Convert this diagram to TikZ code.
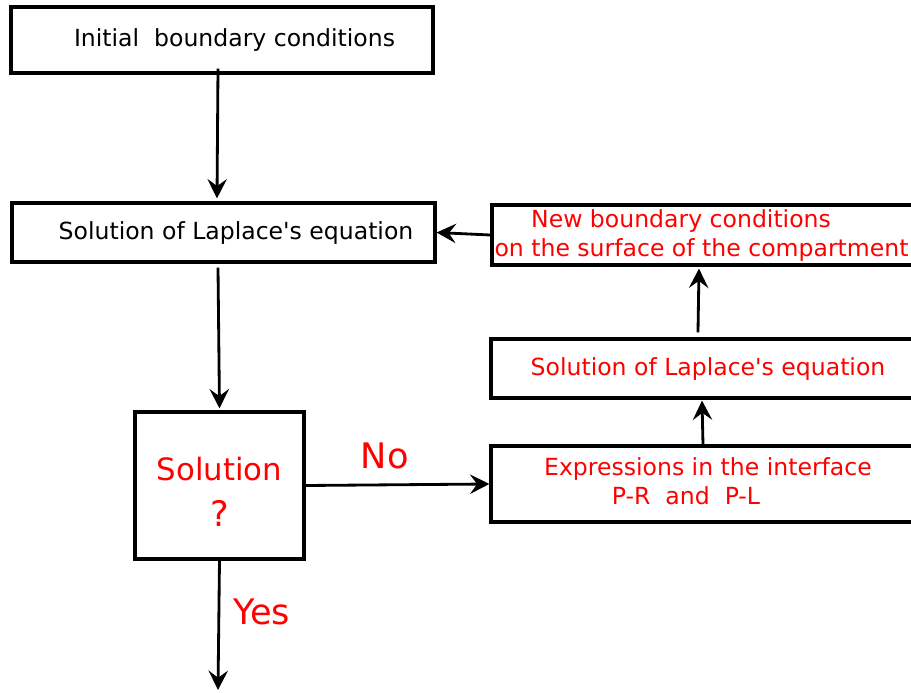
\documentclass[tikz,border=0pt]{standalone}
\usepackage{fontspec}
\setmainfont{DejaVu Sans}
\usepackage{xcolor}
\usepackage{tikz}
\usetikzlibrary{arrows.meta}

\begin{document}
\begin{tikzpicture}[scale=0.2]
\tikzstyle{every node}+=[inner sep=0pt]
\tikzstyle{box}=[draw=black, line width=1.8pt, rectangle, align=center, font=\fontsize{13.4}{16.5}\selectfont]
\tikzstyle{redbox}=[box, text=red]
\tikzstyle{bigtxt}=[text=red, font=\fontsize{20}{24}\selectfont]
\tikzstyle{arr}=[black, line width=1.6pt, -{Stealth[length=11pt,width=11pt,inset=4pt]}]
\useasboundingbox (0,0) rectangle (91.1,-69.2);
\node [box, minimum width=8.44cm, minimum height=1.32cm] (init) at (22.2,-4.0) {\hspace{0.5cm}Initial\ \ boundary conditions};
\node [box, minimum width=8.46cm, minimum height=1.18cm] (lapa) at (22.35,-23.25) {\hspace{0.5cm}Solution of Laplace\textquotesingle s equation};
\node [redbox, minimum width=3.38cm, minimum height=2.94cm, font=\fontsize{17.5}{24}\selectfont] (sol) at (21.95,-48.55) {\rule{0pt}{0.72cm}Solution\\[2pt] {\fontsize{20}{24}\selectfont ?}};
\node [redbox, minimum width=8.66cm, minimum height=1.2cm] (newbc) at (70.85,-23.5) {New boundary conditions\hspace*{1.1cm}\mbox{}\\ on the surface of the compartment\hspace*{0.28cm}\mbox{}};
\node [redbox, minimum width=8.68cm, minimum height=1.18cm] (lapb) at (70.8,-36.85) {Solution of Laplace\textquotesingle s equation};
\node [redbox, minimum width=8.68cm, minimum height=1.52cm] (expr) at (70.8,-48.4) {Expressions in the interface\\ P-R\ \ and\ \ P-L\hspace*{0.88cm}\mbox{}\rule[-0.1cm]{0pt}{0.1cm}};
\coordinate (out) at (21.8,-69.0);
% arrows
\draw [arr] ([xshift=-0.4cm,yshift=0.6cm]init.south) -- ([xshift=-0.65cm,yshift=0.3cm]lapa.north);
\draw [arr] ([xshift=-0.55cm,yshift=-0.4cm]lapa.south) -- ([yshift=0.2cm]sol.north);
\draw [arr] (sol.east) -- (expr.west) node [bigtxt, pos=0.43, above=8pt] {No};
\draw [arr] (sol.south) -- (out) node [bigtxt, pos=0.4, right=7.5pt] {Yes};
\draw [arr] ([xshift=-0.5cm]expr.north) -- ([xshift=-0.6cm,yshift=-0.1cm]lapb.south);
\draw [arr] ([xshift=-1.0cm,yshift=0.5cm]lapb.north) -- ([xshift=-0.95cm,yshift=-0.2cm]newbc.south);
\draw [arr] (newbc.west) -- (lapa.east);
\end{tikzpicture}
\end{document}
